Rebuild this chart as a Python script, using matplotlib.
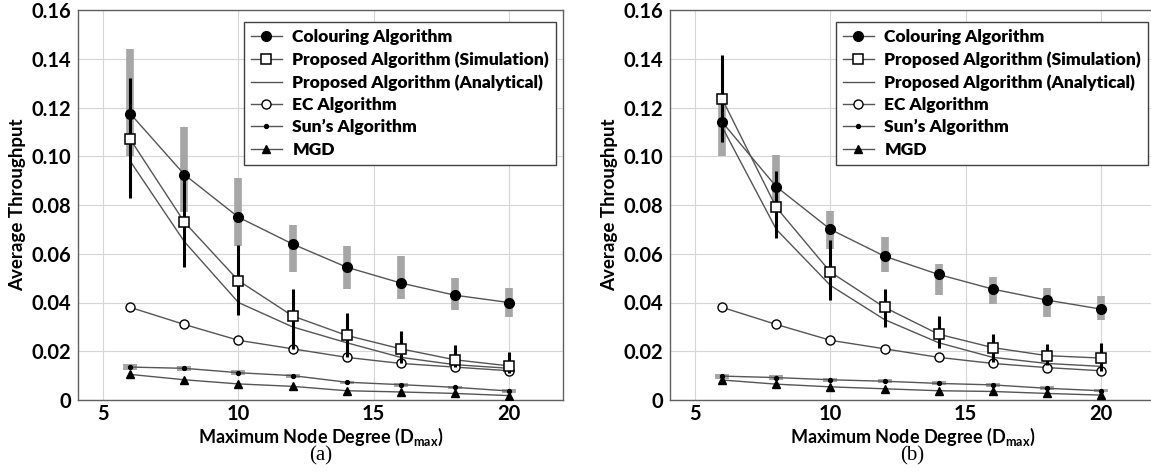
import matplotlib
matplotlib.use("Agg")
import matplotlib.pyplot as plt
from matplotlib.font_manager import FontProperties
import numpy as np

plt.rcParams['font.family'] = ['Lato', 'DejaVu Sans']
plt.rcParams['font.weight'] = 'bold'
plt.rcParams['mathtext.fontset'] = 'custom'
plt.rcParams['mathtext.rm'] = 'Lato:bold'

# Maximum node degree
degree = [6, 8, 10, 12, 14, 16, 18, 20]

# ---- panel (a) ----
a_colouring = [0.1175, 0.0925, 0.075, 0.064, 0.0545, 0.048, 0.043, 0.040]
a_colouring_lo = [0.100, 0.077, 0.063, 0.0525, 0.0455, 0.0415, 0.037, 0.034]
a_colouring_hi = [0.144, 0.112, 0.091, 0.072, 0.063, 0.059, 0.050, 0.046]
a_sim = [0.107, 0.073, 0.049, 0.0345, 0.0265, 0.021, 0.0165, 0.014]
a_sim_lo = [0.083, 0.0545, 0.035, 0.021, 0.0175, 0.015, 0.0135, 0.011]
a_sim_hi = [0.132, 0.092, 0.0635, 0.0455, 0.0355, 0.0285, 0.0225, 0.0195]
a_analytical = [0.098, 0.065, 0.040, 0.030, 0.0235, 0.0175, 0.0145, 0.013]
a_ec = [0.038, 0.031, 0.0245, 0.021, 0.0175, 0.015, 0.0135, 0.012]
a_sun = [0.0135, 0.013, 0.0112, 0.010, 0.0073, 0.0063, 0.0052, 0.0037]
a_sun_lo = [0.0123, 0.0118, 0.0102, 0.0090, 0.0065, 0.0055, 0.0045, 0.0030]
a_sun_hi = [0.0148, 0.0140, 0.0122, 0.0108, 0.0080, 0.0070, 0.0058, 0.0044]
a_mgd = [0.0105, 0.0083, 0.0066, 0.0056, 0.0038, 0.0033, 0.0027, 0.0018]

# ---- panel (b) ----
b_colouring = [0.114, 0.0875, 0.070, 0.059, 0.0515, 0.0455, 0.041, 0.0373]
b_colouring_lo = [0.100, 0.077, 0.062, 0.0525, 0.043, 0.0395, 0.034, 0.033]
b_colouring_hi = [0.123, 0.1005, 0.0775, 0.067, 0.056, 0.0505, 0.046, 0.0425]
b_sim = [0.1235, 0.079, 0.0525, 0.038, 0.027, 0.0215, 0.0182, 0.0172]
b_sim_lo = [0.106, 0.0665, 0.041, 0.0298, 0.0215, 0.0155, 0.0145, 0.012]
b_sim_hi = [0.1415, 0.094, 0.0655, 0.0455, 0.0345, 0.027, 0.0228, 0.0233]
b_analytical = [0.112, 0.070, 0.047, 0.033, 0.0235, 0.0175, 0.015, 0.0138]
b_ec = [0.038, 0.031, 0.0245, 0.021, 0.0175, 0.015, 0.0133, 0.012]
b_sun = [0.0098, 0.0092, 0.0083, 0.0077, 0.0068, 0.0062, 0.0048, 0.0038]
b_sun_lo = [0.0088, 0.0083, 0.0075, 0.0069, 0.0060, 0.0054, 0.0040, 0.0031]
b_sun_hi = [0.0108, 0.0101, 0.0091, 0.0085, 0.0076, 0.0070, 0.0056, 0.0045]
b_mgd = [0.0082, 0.0065, 0.0054, 0.0046, 0.0038, 0.0035, 0.0027, 0.0020]

y_ticks = [0, 0.02, 0.04, 0.06, 0.08, 0.10, 0.12, 0.14, 0.16]
y_tick_labels = ['0', '0.02', '0.04', '0.06', '0.08', '0.10', '0.12', '0.14', '0.16']
x_ticks = [5, 10, 15, 20]

LINE_COL = '#555555'
GRAY_BAR = '#a6a6a6'
LEGEND_FONT = FontProperties(family='Lato', weight='heavy', size=12.5)


def bar(ax, x, y, lo, hi, color, width, z):
    y = np.array(y)
    err = [y - np.array(lo), np.array(hi) - y]
    ax.errorbar(x, y, yerr=err, fmt='none', ecolor=color, elinewidth=width,
                capsize=0, zorder=z)


def draw_panel(ax, colouring, col_lo, col_hi, sim, sim_lo, sim_hi,
               analytical, ec, sun, sun_lo, sun_hi, mgd, caption):
    bar(ax, degree, colouring, col_lo, col_hi, GRAY_BAR, 5.5, 1)
    bar(ax, degree, sun, sun_lo, sun_hi, GRAY_BAR, 10, 1)
    bar(ax, degree, sim, sim_lo, sim_hi, 'black', 2.2, 4)

    ax.plot(degree, colouring, color=LINE_COL, lw=1, marker='o', ms=7,
            mfc='black', mec='black', label='Colouring Algorithm', zorder=3)
    ax.plot(degree, sim, color=LINE_COL, lw=1, marker='s', ms=7,
            mfc='white', mec='black', mew=1.1,
            label='Proposed Algorithm (Simulation)', zorder=5)
    ax.plot(degree, analytical, color=LINE_COL, lw=1,
            label='Proposed Algorithm (Analytical)', zorder=3)
    ax.plot(degree, ec, color=LINE_COL, lw=1, marker='o', ms=6.5,
            mfc='white', mec='black', mew=1.0, label='EC Algorithm', zorder=3)
    ax.plot(degree, sun, color=LINE_COL, lw=1, marker='o', ms=2.8,
            mfc='black', mec='black', label="Sun\u2019s Algorithm", zorder=3)
    ax.plot(degree, mgd, color=LINE_COL, lw=1, marker='^', ms=6,
            mfc='black', mec='black', label='MGD', zorder=3)

    ax.set_xlim(4.07, 22)
    ax.set_ylim(0, 0.16)
    ax.set_xticks(x_ticks)
    ax.set_yticks(y_ticks)
    ax.set_yticklabels(y_tick_labels)
    ax.tick_params(axis='both', length=0, labelsize=14.5, pad=5)
    ax.tick_params(axis='x', pad=3)
    for lab in ax.get_xticklabels() + ax.get_yticklabels():
        lab.set_fontweight('bold')
    ax.grid(True, color='#d6d6d6', lw=0.8)
    ax.set_axisbelow(True)
    for s in ax.spines.values():
        s.set_color('#606060')
        s.set_linewidth(1.0)

    ax.set_ylabel('Average Throughput', fontsize=13.5, fontweight='bold',
                  labelpad=4)
    ax.set_xlabel(r'Maximum Node Degree (D$_{\rm max}$)', fontsize=13,
                  fontweight='bold', labelpad=1)

    leg = ax.legend(loc='upper left', bbox_to_anchor=(0.342, 0.969),
                    borderaxespad=0, handlelength=1.8, prop=LEGEND_FONT,
                    fancybox=False, framealpha=1, edgecolor='#404040',
                    labelspacing=0.36, borderpad=0.4, handletextpad=0.6)
    leg.get_frame().set_linewidth(1.0)

    ax.text(0.5, -0.142, caption, transform=ax.transAxes, ha='center',
            va='center', fontsize=15, family='Liberation Serif',
            fontweight='normal')


fig = plt.figure(figsize=(11.51, 4.76), dpi=100)
ax_a = fig.add_axes([78 / 1151, 1 - 400 / 476, 485 / 1151, 390 / 476])
ax_b = fig.add_axes([670 / 1151, 1 - 400 / 476, 485 / 1151, 390 / 476])

draw_panel(ax_a, a_colouring, a_colouring_lo, a_colouring_hi, a_sim, a_sim_lo,
           a_sim_hi, a_analytical, a_ec, a_sun, a_sun_lo, a_sun_hi, a_mgd, '(a)')
draw_panel(ax_b, b_colouring, b_colouring_lo, b_colouring_hi, b_sim, b_sim_lo,
           b_sim_hi, b_analytical, b_ec, b_sun, b_sun_lo, b_sun_hi, b_mgd, '(b)')

fig.savefig('out.png', dpi=100)
